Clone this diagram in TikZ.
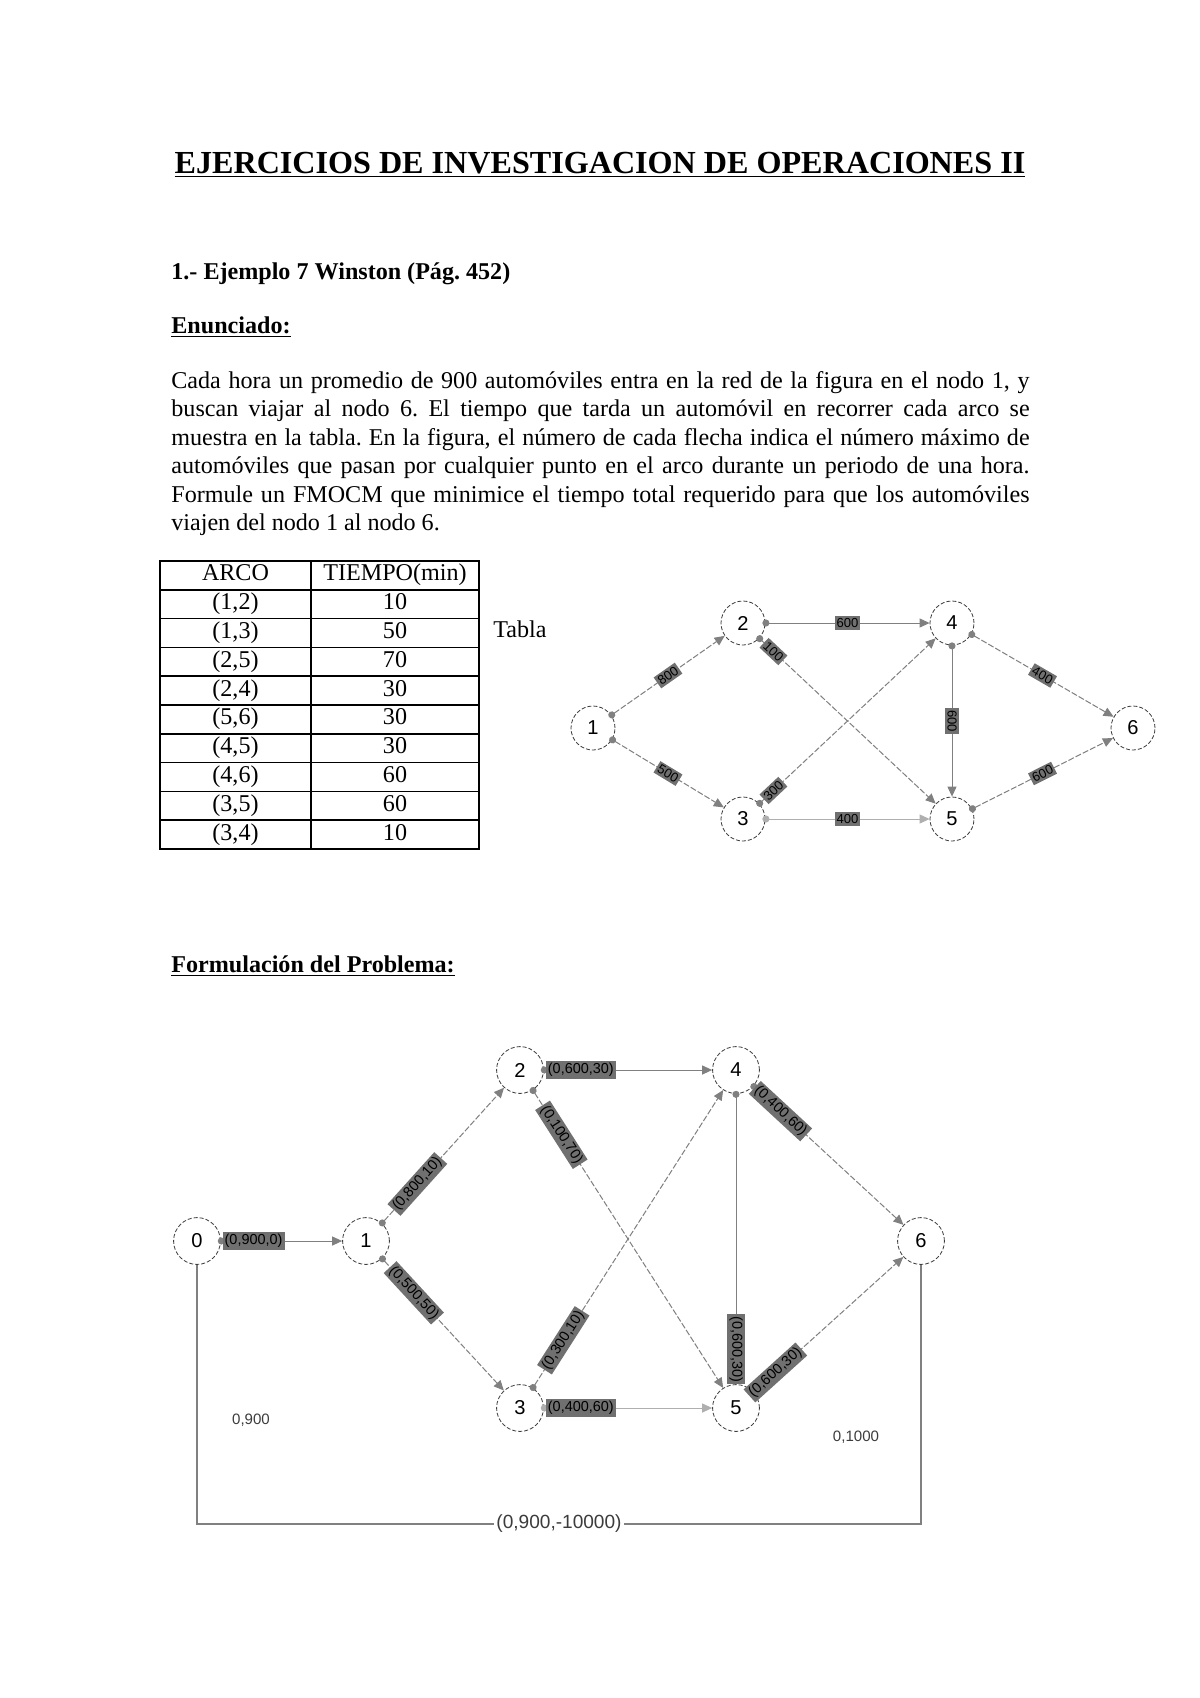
\documentclass[tikz,border=0pt]{standalone}
\usepackage{fontspec}
\setmainfont{Liberation Serif}
\setsansfont{Liberation Sans}
\usepackage{tikz}
\usetikzlibrary{arrows.meta, positioning}
\frenchspacing
\definecolor{mydark}{RGB}{60,60,60}
\definecolor{mygray}{RGB}{128,128,128}
\definecolor{myfaint}{RGB}{175,175,175}
\definecolor{lblgray}{RGB}{112,112,112}
\tikzset{
  vert/.style={circle, draw=mydark, dash pattern=on 2pt off 1pt, fill=white,
    minimum size=0.77cm, inner sep=0pt, font=\sffamily\fontsize{10}{12}\selectfont},
  bigvert/.style={vert, minimum size=0.82cm},
  flow/.style={draw=mygray, line width=0.5pt,
    {Circle[length=3.5pt]}-{Triangle[length=5pt,width=4.5pt]}, shorten <=-1.5pt},
  dflow/.style={flow, dash pattern=on 3pt off 1pt},
  wt/.style={fill=lblgray, text=black, inner sep=1pt, sloped,
    font=\sffamily\fontsize{6.5}{7}\selectfont},
  bigwt/.style={wt, font=\sffamily\fontsize{7.2}{8}\selectfont},
  cell/.style={font=\fontsize{12}{14}\selectfont, text height=8pt, text depth=2.5pt},
  tabline/.style={line width=0.8pt, color=black},
  heading/.style={anchor=base west, inner sep=0pt, font=\bfseries\fontsize{12}{14}\selectfont}
}

\begin{document}
\begin{tikzpicture}[x=0.0175cm, y=-0.0175cm]
  \fill[white] (0,0) rectangle (1200,1698);

  % Encabezado y enunciado
  \node[anchor=base, font=\bfseries\fontsize{16}{19}\selectfont] (titulo) at (600,173)
    {\underline{EJERCICIOS DE INVESTIGACION DE OPERACIONES II}};
  \node[heading] (ejemplo) at (171,279) {1.- Ejemplo 7 Winston (Pág. 452)};
  \node[heading] (enunciado) at (171,333) {\underline{Enunciado:}};
  \node[anchor=base west, text width=15.02cm, align=justify, inner sep=0pt,
    font=\fontsize{12}{14.2}\selectfont] (texto) at (171,388)
    {Cada hora un promedio de 900 automóviles entra en la red de la figura en el nodo 1, y\linebreak
     buscan viajar al nodo 6. El tiempo que tarda un automóvil en recorrer cada arco se\linebreak
     muestra en la tabla. En la figura, el número de cada flecha indica el número máximo de\linebreak
     automóviles que pasan por cualquier punto en el arco durante un periodo de una hora.\linebreak
     Formule un FMOCM que minimice el tiempo total requerido para que los automóviles\linebreak
     viajen del nodo 1 al nodo 6.};

  % Tabla de tiempos
  \draw[tabline] (160,561) rectangle (479,849);
  \draw[tabline] (311,561) -- (311,849);
  \foreach \i in {1,...,9}
    \draw[tabline] (160,{561+28.8*\i}) -- (479,{561+28.8*\i});
  \node[cell] (arco-0) at (235.5,575.4) {ARCO};
  \node[cell] (tiempo-0) at (395,575.4) {TIEMPO(min)};
  \foreach \p/\q/\t [count=\i] in {1/2/10, 1/3/50, 2/5/70, 2/4/30, 5/6/30,
      4/5/30, 4/6/60, 3/5/60, 3/4/10} {
    \node[cell] (arco-\i) at (235.5,{575.4+28.8*\i}) {(\p,\q)};
    \node[cell] (tiempo-\i) at (395,{575.4+28.8*\i}) {\t};
  }
  \node[anchor=base west, inner sep=0pt, font=\fontsize{12}{14}\selectfont] (tabla) at (493,637) {Tabla};

  % Red original
  \node[vert] (n1) at (593,728) {1};
  \node[vert] (n2) at (743,623) {2};
  \node[vert] (n3) at (743,819) {3};
  \node[vert] (n4) at (952,623) {4};
  \node[vert] (n5) at (952,819) {5};
  \node[vert] (n6) at (1133,728) {6};

  \draw[dflow] (n1) -- node[wt] {800} (n2);
  \draw[dflow] (n1) -- node[wt] {500} (n3);
  \draw[flow] (n2) -- node[wt] {600} (n4);
  \draw[dflow] (n2) -- node[wt, pos=0.08] {100} (n5);
  \draw[dflow] (n3) -- node[wt, pos=0.08] {300} (n4);
  \draw[flow, draw=myfaint] (n3) -- node[wt] {400} (n5);
  \draw[flow] (n4) -- node[wt] {600} (n5);
  \draw[dflow] (n4) -- node[wt] {400} (n6);
  \draw[dflow] (n5) -- node[wt] {600} (n6);

  % Formulacion
  \node[heading] (formulacion) at (171,972) {\underline{Formulación del Problema:}};

  \node[bigvert] (m0) at (197,1241) {0};
  \node[bigvert] (m1) at (366,1241) {1};
  \node[bigvert] (m2) at (520,1070) {2};
  \node[bigvert] (m3) at (520,1408) {3};
  \node[bigvert] (m4) at (736,1070) {4};
  \node[bigvert] (m5) at (736,1408) {5};
  \node[bigvert] (m6) at (921,1241) {6};

  \draw[flow] (m0) -- node[bigwt, pos=0.27] {(0,900,0)} (m1);
  \draw[dflow] (m1) -- node[bigwt, pos=0.29] {(0,800,10)} (m2);
  \draw[dflow] (m1) -- node[bigwt, pos=0.26] {(0,500,50)} (m3);
  \draw[flow] (m2) -- node[bigwt, pos=0.22] {(0,600,30)} (m4);
  \draw[dflow] (m2) -- node[bigwt, pos=0.15] {(0,100,70)} (m5);
  \draw[dflow] (m3) -- node[bigwt, pos=0.16] {(0,300,10)} (m4);
  \draw[flow, draw=myfaint] (m3) -- node[bigwt, pos=0.22] {(0,400,60)} (m5);
  \draw[flow] (m4) -- node[bigwt, pos=0.88] {(0,600,30)} (m5);
  \draw[dflow] (m4) -- node[bigwt, pos=0.18] {(0,400,60)} (m6);
  \draw[dflow] (m5) -- node[bigwt, pos=0.145] {(0,600,30)} (m6);

  % Arco de retorno
  \coordinate (retL) at (197,1524);
  \coordinate (retR) at (921,1524);
  \draw[mygray, line width=0.6pt] (m0) -- (retL)
    -- node[fill=white, inner sep=1pt, text=mydark,
       font=\sffamily\fontsize{9.5}{11}\selectfont] (retlbl) {(0,900,-10000)} (retR) -- (m6);

  \node[text=mydark, font=\sffamily\fontsize{7.5}{9}\selectfont] (oferta) at (251,1420) {0,900};
  \node[text=mydark, font=\sffamily\fontsize{7.5}{9}\selectfont] (demanda) at (856,1437) {0,1000};
\end{tikzpicture}
\end{document}
